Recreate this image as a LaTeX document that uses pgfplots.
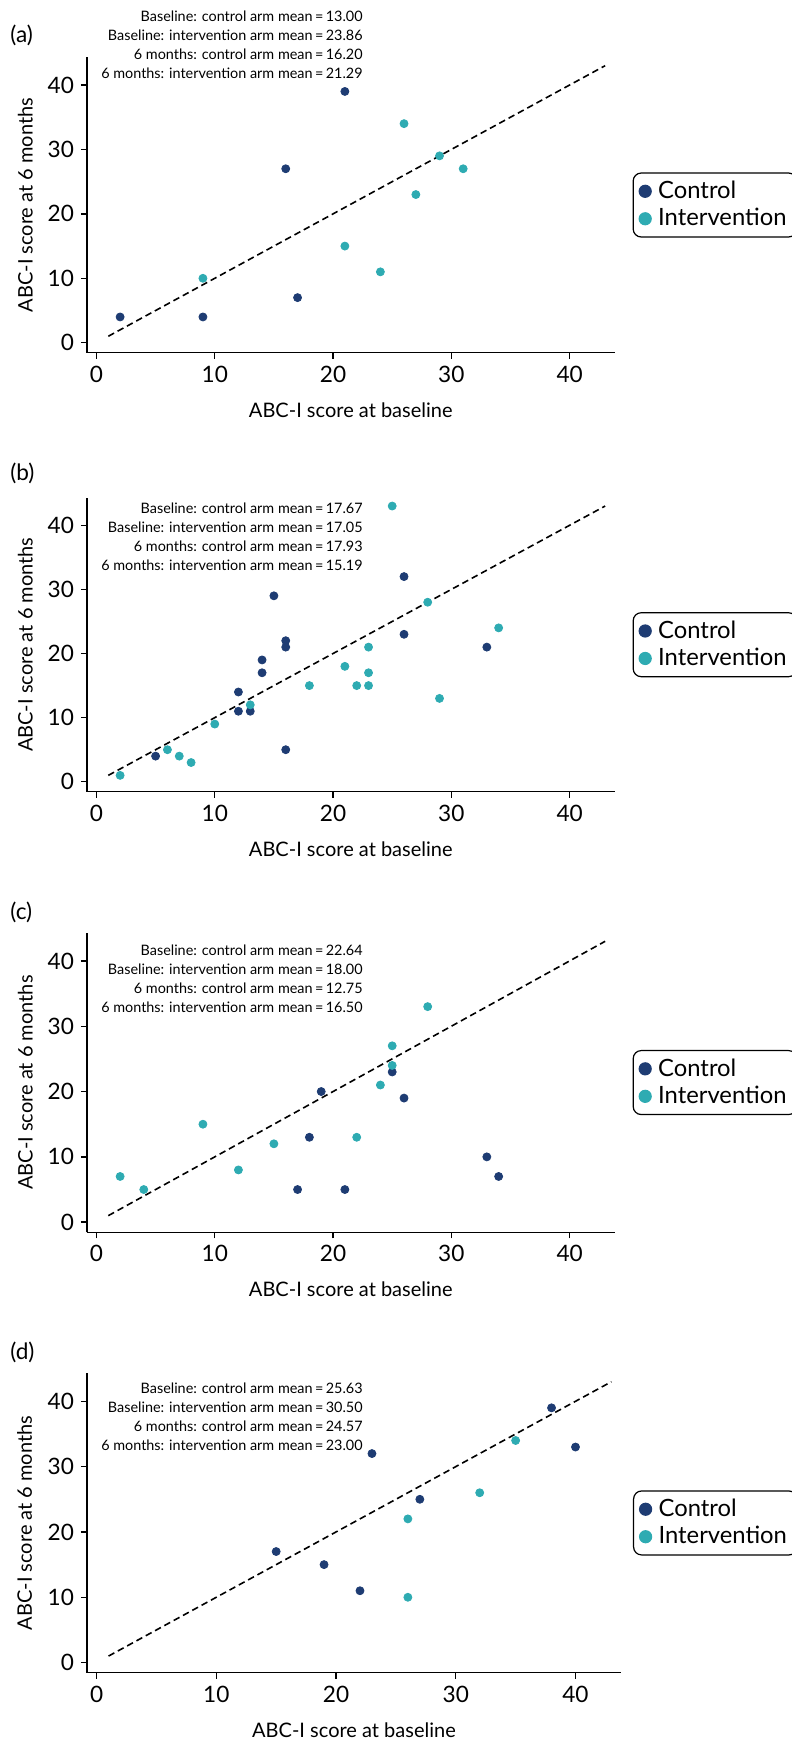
\documentclass[border=0pt]{standalone}
\usepackage{pgfplots}
\pgfplotsset{compat=1.18}
\usepackage{fontspec}
\setmainfont{Lato}
\definecolor{ctrl}{RGB}{30,60,115}
\definecolor{intv}{RGB}{46,171,178}
\pgfplotsset{
  panel/.style={
    scale only axis,
    axis lines=left,
    axis line style={-, line width=0.7pt},
    xmin=-0.8, xmax=43.8, ymin=-1.55, ymax=44.3,
    xtick={0,10,20,30,40}, ytick={0,10,20,30,40},
    tick align=outside, major tick length=3pt,
    tick style={line width=0.7pt, black},
    /pgf/number format/assume math mode=true,
    tick label style={font=\fontsize{11.3}{13}\selectfont},
    label style={font=\fontsize{11.3}{13}\selectfont},
    xlabel={ABC-I score at baseline},
    ylabel={ABC-I score at 6 months},
    every axis x label/.style={at={(axis description cs:0.5,0)}, anchor=center, yshift=-28.6pt},
    every axis y label/.style={at={(axis description cs:-0.117,0.5)}, anchor=center, rotate=90},
    legend style={draw=black, line width=0.6pt, rounded corners=4pt,
      at={(axis description cs:1,0.5)}, anchor=west, xshift=9pt,
      font=\fontsize{11.9}{13}\selectfont, inner xsep=3pt, inner ysep=2pt,
      row sep=-0.5pt,
      /tikz/every odd column/.append style={column sep=1.5pt}},
    legend cell align=left,
    legend image post style={mark size=3pt},
    clip=false,
  },
  ctrlp/.style={only marks, mark=*, mark size=2pt, color=ctrl, mark options={draw=ctrl, fill=ctrl}},
  intvp/.style={only marks, mark=*, mark size=2pt, color=intv, mark options={draw=intv, fill=intv}},
  diag/.style={black, line width=0.8pt, dash pattern=on 3.3pt off 2pt, forget plot},
}
\newcommand{\annot}[5]{%
  \node[anchor=east, font=\fontsize{7.2}{8}\selectfont, inner sep=0pt] at (181.5pt,#1) {Baseline: control arm mean\,=\,#2};
  \node[anchor=east, font=\fontsize{7.2}{8}\selectfont, inner sep=0pt] at (181.5pt,#1-9.5pt) {Baseline: intervention arm mean\,=\,#3};
  \node[anchor=east, font=\fontsize{7.2}{8}\selectfont, inner sep=0pt] at (181.5pt,#1-19pt) {6 months: control arm mean\,=\,#4};
  \node[anchor=east, font=\fontsize{7.2}{8}\selectfont, inner sep=0pt] at (181.5pt,#1-28.5pt) {6 months: intervention arm mean\,=\,#5};
}
\begin{document}
\begin{tikzpicture}
\useasboundingbox (0,0) rectangle (396pt,-871pt);

% ---------- (a)
\begin{axis}[panel, at={(43.5pt,-176.35pt)}, anchor=south west, width=263.8pt, height=147.7pt]
\addplot[diag] coordinates {(1,1) (43,43)};
\addplot[ctrlp] coordinates {(2,4) (9,4) (16,27) (17,7) (21,39)};
\addplot[intvp] coordinates {(9,10) (21,15) (24,11) (26,34) (27,23) (29,29) (31,27)};
\legend{Control, Intervention}
\end{axis}
\node[anchor=west, font=\fontsize{11.3}{13}\selectfont, inner sep=0pt] at (5pt,-17.5pt) {(a)};
\annot{-8pt}{13.00}{23.86}{16.20}{21.29}

% ---------- (b)
\begin{axis}[panel, at={(43.5pt,-395.85pt)}, anchor=south west, width=263.8pt, height=147pt]
\addplot[diag] coordinates {(1,1) (43,43)};
\addplot[ctrlp] coordinates {(5,4) (12,14) (12,11) (13,11) (14,19) (14,17) (15,29) (16,22) (16,21) (16,5) (26,32) (26,23) (33,21)};
\addplot[intvp] coordinates {(2,1) (6,5) (7,4) (8,3) (10,9) (13,12) (18,15) (21,18) (22,15) (23,21) (23,17) (23,15) (25,43) (28,28) (29,13) (34,24)};
\legend{Control, Intervention}
\end{axis}
\node[anchor=west, font=\fontsize{11.3}{13}\selectfont, inner sep=0pt] at (5pt,-236.5pt) {(b)};
\annot{-254.2pt}{17.67}{17.05}{17.93}{15.19}

% ---------- (c)
\begin{axis}[panel, at={(43.5pt,-616.15pt)}, anchor=south west, width=263.8pt, height=149.75pt]
\addplot[diag] coordinates {(1,1) (43,43)};
\addplot[ctrlp] coordinates {(17,5) (18,13) (19,20) (21,5) (25,23) (26,19) (33,10) (34,7)};
\addplot[intvp] coordinates {(2,7) (4,5) (9,15) (12,8) (15,12) (22,13) (24,21) (25,27) (25,24) (28,33)};
\legend{Control, Intervention}
\end{axis}
\node[anchor=west, font=\fontsize{11.3}{13}\selectfont, inner sep=0pt] at (5pt,-456pt) {(c)};
\annot{-475pt}{22.64}{18.00}{12.75}{16.50}

% ---------- (d)
\begin{axis}[panel, at={(43.5pt,-836.35pt)}, anchor=south west, width=267pt, height=149.75pt, legend style={xshift=-3pt}]
\addplot[diag] coordinates {(1,1) (43,43)};
\addplot[ctrlp] coordinates {(15,17) (19,15) (22,11) (23,32) (27,25) (38,39) (40,33)};
\addplot[intvp] coordinates {(26,22) (26,10) (32,26) (35,34)};
\legend{Control, Intervention}
\end{axis}
\node[anchor=west, font=\fontsize{11.3}{13}\selectfont, inner sep=0pt] at (5pt,-676pt) {(d)};
\annot{-694.15pt}{25.63}{30.50}{24.57}{23.00}
\end{tikzpicture}
\end{document}
